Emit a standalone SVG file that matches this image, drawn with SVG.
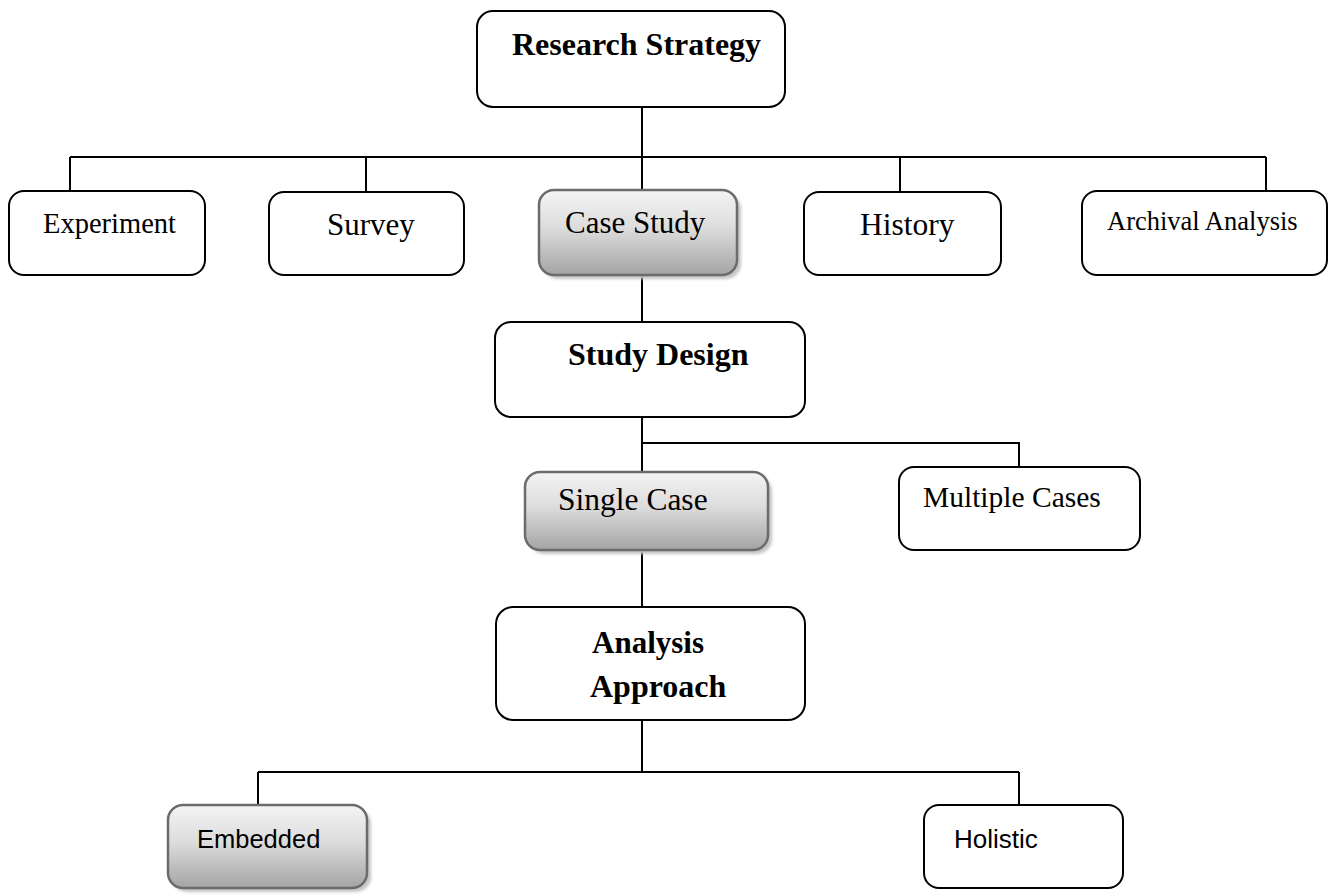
<svg xmlns="http://www.w3.org/2000/svg" width="1329" height="895" viewBox="0 0 1329 895">
<defs>
<linearGradient id="g" x1="0" y1="0" x2="0" y2="1">
<stop offset="0" stop-color="#f4f4f4"/>
<stop offset="0.45" stop-color="#dcdcdc"/>
<stop offset="1" stop-color="#a4a4a4"/>
</linearGradient>
<filter id="sh" x="-10%" y="-10%" width="130%" height="130%">
<feGaussianBlur stdDeviation="1.5"/>
</filter>
</defs>
<style>
.box{fill:#fff;stroke:#000;stroke-width:2}
.gbox{fill:url(#g);stroke:#6b6b6b;stroke-width:2.5}
.shadow{fill:#c4c4c4;filter:url(#sh)}
.ln{stroke:#000;stroke-width:2;fill:none}
.t{font-family:"Liberation Serif","Times New Roman",serif;fill:#000}
.b{font-weight:bold}
.s{font-family:"Liberation Sans",Arial,sans-serif;fill:#000}
</style>
<rect width="1329" height="895" fill="#fff"/>
<g id="connectors">
<path class="ln" d="M642 107V157M70 157H1266M70 157V191M366 157V192M642 157V190M900 157V192M1266 157V191"/>
<path class="ln" d="M642 275V322M642 417V472M642 443H1019V467"/>
<path class="ln" d="M642 550V607M642 720V772M258 772H1019M258 772V805M1019 772V805"/>
</g>
<g id="research-strategy">
<rect class="box" x="477" y="11" width="308" height="96" rx="16"/>
<text class="t b" x="512" y="55" font-size="32">Research Strategy</text>
</g>
<g id="experiment">
<rect class="box" x="9" y="191" width="196" height="84" rx="15"/>
<text class="t" x="43" y="233" font-size="28.5">Experiment</text>
</g>
<g id="survey">
<rect class="box" x="269" y="192" width="195" height="83" rx="15"/>
<text class="t" x="327" y="235" font-size="31">Survey</text>
</g>
<g id="case-study">
<rect class="shadow" x="543" y="194" width="198" height="85" rx="15"/>
<rect class="gbox" x="539" y="190" width="198" height="85" rx="15"/>
<text class="t" x="565" y="233" font-size="31">Case Study</text>
</g>
<g id="history">
<rect class="box" x="804" y="192" width="197" height="83" rx="15"/>
<text class="t" x="860" y="235" font-size="31.5">History</text>
</g>
<g id="archival-analysis">
<rect class="box" x="1082" y="191" width="245" height="84" rx="15"/>
<text class="t" x="1107" y="230" font-size="26.5">Archival Analysis</text>
</g>
<g id="study-design">
<rect class="box" x="495" y="322" width="310" height="95" rx="16"/>
<text class="t b" x="568" y="365" font-size="32">Study Design</text>
</g>
<g id="single-case">
<rect class="shadow" x="529" y="476" width="243" height="78" rx="15"/>
<rect class="gbox" x="525" y="472" width="243" height="78" rx="15"/>
<text class="t" x="558" y="510" font-size="31.5">Single Case</text>
</g>
<g id="multiple-cases">
<rect class="box" x="899" y="467" width="241" height="83" rx="15"/>
<text class="t" x="923" y="507" font-size="29.5">Multiple Cases</text>
</g>
<g id="analysis-approach">
<rect class="box" x="496" y="607" width="309" height="113" rx="17"/>
<text class="t b" x="592" y="653" font-size="31">Analysis</text>
<text class="t b" x="590" y="697" font-size="32">Approach</text>
</g>
<g id="embedded">
<rect class="shadow" x="172" y="809" width="199" height="83" rx="15"/>
<rect class="gbox" x="168" y="805" width="199" height="83" rx="15"/>
<text class="s" x="197" y="848" font-size="25.5">Embedded</text>
</g>
<g id="holistic">
<rect class="box" x="924" y="805" width="199" height="83" rx="15"/>
<text class="s" x="954" y="848" font-size="26">Holistic</text>
</g>
</svg>
